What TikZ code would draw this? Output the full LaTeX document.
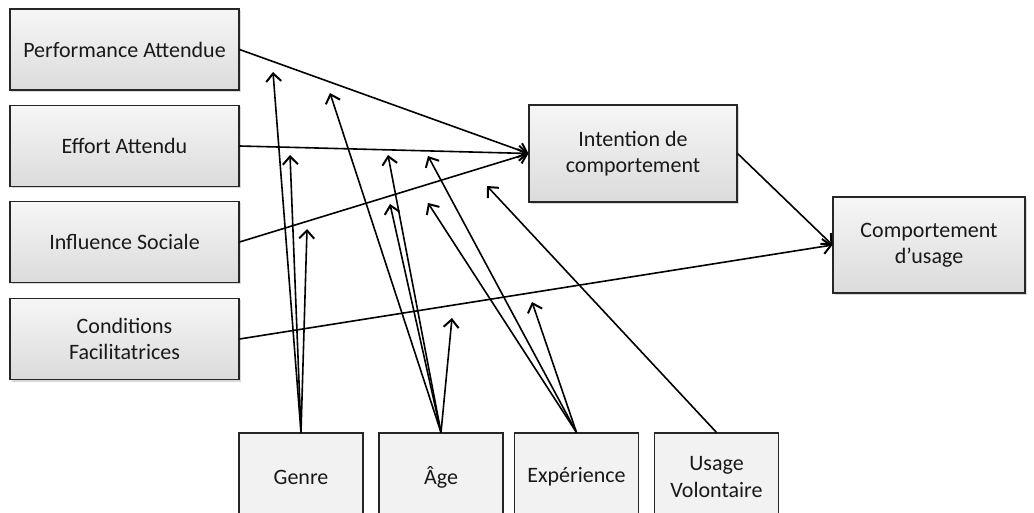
\documentclass[tikz,border=0pt]{standalone}
\usepackage{fontspec}
\setmainfont{Carlito}
\usetikzlibrary{arrows.meta,shadows}
\begin{document}
\begin{tikzpicture}[x=1pt,y=-1pt,
  box/.style={draw=black!85, line width=1.1pt, top color=gray!7, bottom color=gray!28,
    drop shadow={shadow xshift=1.5pt,shadow yshift=-2pt,opacity=0.3},
    align=center, text=black!90, font=\fontsize{22}{26}\selectfont, inner sep=0pt},
  mbox/.style={draw=black!85, line width=1.1pt, fill=gray!10, minimum width=124pt, minimum height=88pt,
    align=center, text=black!90, font=\fontsize{22}{27}\selectfont, inner sep=0pt},
  arr/.style={line width=1.6pt, -{Straight Barb[length=8pt,width=15pt,line width=2pt]}}]
\useasboundingbox (0,0) rectangle (1034,513);
\clip (0,0) rectangle (1034,513);
\node[box, minimum width=229pt, minimum height=81pt] (pa) at (124.5,49.5) {Performance Attendue};
\node[box, minimum width=229pt, minimum height=81pt] (ea) at (124.5,146) {Effort Attendu};
\node[box, minimum width=229pt, minimum height=81pt] (is) at (124.5,242) {Influence Sociale};
\node[box, minimum width=229pt, minimum height=81pt] (cf) at (124.5,339) {Conditions\\Facilitatrices};
\node[box, minimum width=208pt, minimum height=97pt] (ic) at (633,153.5) {Intention de\\comportement};
\node[box, minimum width=192pt, minimum height=96pt] (cu) at (929,245) {Comportement\\d’usage};
\node[mbox] (ge) at (301,477) {Genre};
\node[mbox] (ag) at (441,477) {Âge};
\node[mbox] (ex) at (576.5,477) {Expérience};
\node[mbox] (uv) at (716.5,477) {Usage\\Volontaire};
% free ends
\coordinate (g1) at (273,72);
\coordinate (g2) at (290,155);
\coordinate (g3) at (307,229);
\coordinate (a1) at (330,93);
\coordinate (a2) at (388,155);
\coordinate (a3) at (390,204);
\coordinate (a4) at (452,318);
\coordinate (e1) at (428,156);
\coordinate (e2) at (428,203);
\coordinate (e3) at (532,302);
\coordinate (u1) at (487,186);
% main arrows
\draw[arr] (pa.east) -- (ic.west);
\draw[arr] (ea.east) -- (ic.west);
\draw[arr] (is.east) -- (ic.west);
\draw[arr] (ic.east) -- (cu.west);
\draw[arr] (cf.east) -- (cu.west);
% moderators
\foreach \t in {g1,g2,g3} \draw[arr] (ge.north) -- (\t);
\foreach \t in {a1,a2,a3,a4} \draw[arr] (ag.north) -- (\t);
\foreach \t in {e1,e2,e3} \draw[arr] (ex.north) -- (\t);
\draw[arr] (uv.north) -- (u1);
\end{tikzpicture}
\end{document}
